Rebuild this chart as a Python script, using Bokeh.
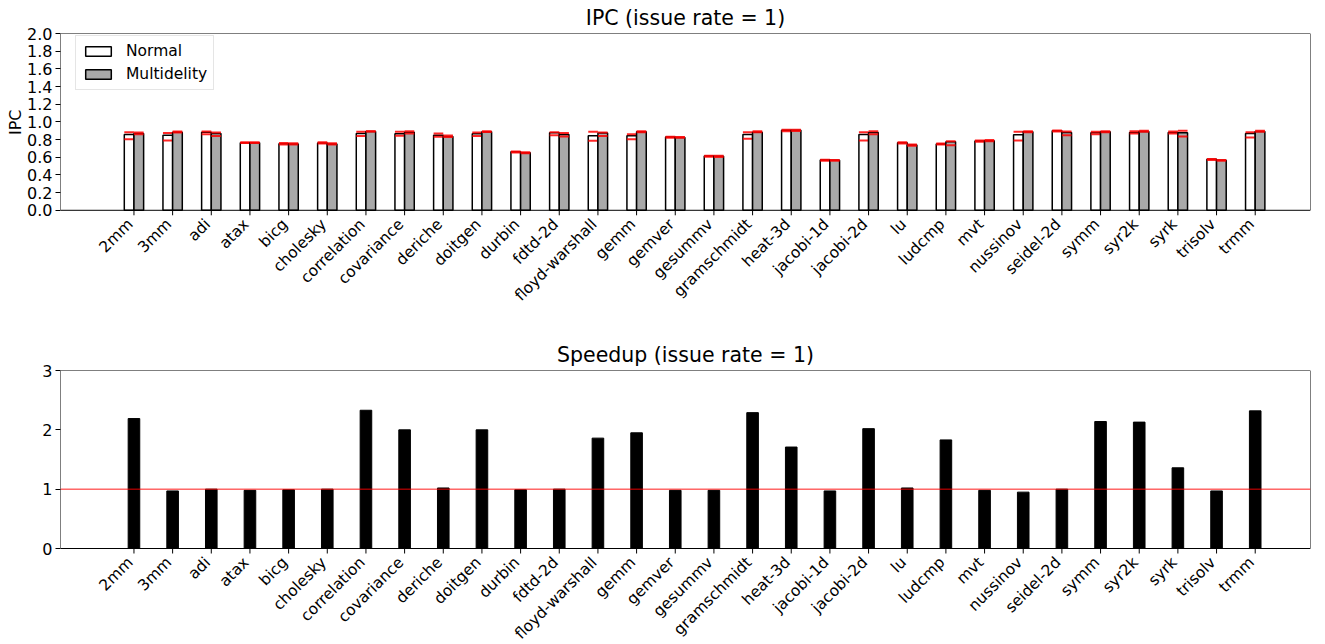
import numpy as np
from bokeh.plotting import figure
from bokeh.layouts import column
from bokeh.models import (Range1d, FixedTicker, Span, Legend, LegendItem, BoxAnnotation, Title)
from bokeh.core.properties import value
from bokeh.embed import file_html
from bokeh.resources import INLINE

benchmarks = ["2mm", "3mm", "adi", "atax", "bicg", "cholesky", "correlation", "covariance",
              "deriche", "doitgen", "durbin", "fdtd-2d", "floyd-warshall", "gemm", "gemver",
              "gesummv", "gramschmidt", "heat-3d", "jacobi-1d", "jacobi-2d", "lu", "ludcmp",
              "mvt", "nussinov", "seidel-2d", "symm", "syr2k", "syrk", "trisolv", "trmm"]

ipc_normal = [0.857, 0.850, 0.884, 0.764, 0.753, 0.760, 0.869, 0.865, 0.850, 0.865,
              0.663, 0.876, 0.843, 0.843, 0.828, 0.614, 0.857, 0.906, 0.569, 0.857,
              0.764, 0.749, 0.783, 0.854, 0.899, 0.876, 0.880, 0.880, 0.577, 0.869]
ipc_normal_lo = [0.805, 0.790, 0.860, 0.760, 0.745, 0.755, 0.839, 0.843, 0.832, 0.840,
                 0.655, 0.850, 0.787, 0.805, 0.820, 0.607, 0.809, 0.895, 0.560, 0.790,
                 0.755, 0.745, 0.775, 0.790, 0.890, 0.860, 0.870, 0.870, 0.570, 0.824]
ipc_normal_hi = [0.884, 0.875, 0.890, 0.770, 0.760, 0.770, 0.888, 0.888, 0.869, 0.880,
                 0.665, 0.884, 0.888, 0.860, 0.832, 0.617, 0.884, 0.910, 0.572, 0.884,
                 0.770, 0.755, 0.790, 0.888, 0.903, 0.888, 0.895, 0.890, 0.580, 0.884]
ipc_multi = [0.869, 0.884, 0.869, 0.764, 0.750, 0.750, 0.891, 0.884, 0.835, 0.888,
             0.652, 0.858, 0.873, 0.888, 0.824, 0.610, 0.884, 0.906, 0.566, 0.880,
             0.738, 0.775, 0.787, 0.888, 0.880, 0.888, 0.891, 0.876, 0.566, 0.891]
ipc_multi_lo = [0.860, 0.880, 0.840, 0.760, 0.745, 0.745, 0.890, 0.870, 0.830, 0.885,
                0.645, 0.835, 0.840, 0.884, 0.820, 0.603, 0.884, 0.898, 0.560, 0.860,
                0.730, 0.735, 0.780, 0.884, 0.850, 0.884, 0.888, 0.836, 0.560, 0.888]
ipc_multi_hi = [0.880, 0.890, 0.880, 0.770, 0.757, 0.757, 0.895, 0.895, 0.845, 0.895,
                0.656, 0.873, 0.880, 0.895, 0.828, 0.617, 0.895, 0.910, 0.570, 0.895,
                0.745, 0.780, 0.795, 0.895, 0.890, 0.895, 0.900, 0.900, 0.570, 0.900]

speedup = [2.19, 0.97, 1.00, 0.98, 0.99, 1.00, 2.33, 2.00, 1.02, 2.00,
           0.99, 1.00, 1.86, 1.95, 0.98, 0.98, 2.29, 1.71, 0.97, 2.02,
           1.02, 1.83, 0.98, 0.95, 1.00, 2.14, 2.13, 1.36, 0.97, 2.32]

ipc_ticks = [0.0, 0.2, 0.4, 0.6, 0.8, 1.0, 1.2, 1.4, 1.6, 1.8, 2.0]
speedup_ticks = [0, 1, 2, 3]

FONT = "DejaVu Sans"
YTICK_SIZE = "16px"
XTICK_SIZE = "15.5px"
LEGEND_SIZE = "15.5px"
TITLE_SIZE = "20.5px"
idx = np.arange(len(benchmarks))
bw = 0.25
xlo, xhi = -1.90, 30.43

AXES_H = 178          # pixel height of the plotting box (0..ymax)
LEFT, RIGHT = 60, 15


def make_panel(title, ymax, yticks, fmt, height, top_border, bottom_border):
    """A panel whose frame also holds the rotated category labels under the box."""
    frame_h = height - top_border - bottom_border
    ymin = -(frame_h - AXES_H) / AXES_H * ymax
    p = figure(width=1325, height=height, output_backend="svg", toolbar_location=None,
               x_range=Range1d(xlo, xhi), y_range=Range1d(ymin, ymax),
               min_border_left=LEFT, min_border_right=RIGHT,
               min_border_top=top_border, min_border_bottom=bottom_border)
    p.title.text = title
    p.title.align = "center"
    p.title.text_font = FONT
    p.title.text_font_size = TITLE_SIZE
    p.title.text_font_style = "normal"
    p.title.text_color = "black"
    p.title.standoff = 7
    p.xgrid.visible = False
    p.ygrid.visible = False
    p.outline_line_color = None
    p.xaxis.visible = False

    ax = p.yaxis[0]
    ax.ticker = FixedTicker(ticks=yticks)
    ax.major_label_overrides = {t: (fmt % t) for t in yticks}
    ax.axis_line_color = None
    ax.major_tick_line_color = "black"
    ax.major_tick_out = 5
    ax.major_tick_in = 0
    ax.minor_tick_line_color = None
    ax.major_label_text_font = FONT
    ax.major_label_text_font_size = YTICK_SIZE
    ax.major_label_text_color = "black"
    ax.major_label_standoff = 3

    # axes box
    p.add_layout(BoxAnnotation(left=xlo, right=xhi, bottom=0, top=ymax,
                               fill_color=None, line_color="black", line_width=1,
                               line_alpha=1))
    # x ticks and rotated category names (right edge of each name under its tick)
    p.ray(x=idx, y=0, length=5, length_units="screen", angle=-np.pi / 2,
          line_color="black", line_width=1)
    p.text(x=idx, y=0, text=benchmarks, angle=np.pi / 4, text_align="right",
           text_baseline="top", x_offset=-10, y_offset=5, text_font=value(FONT),
           text_font_size=XTICK_SIZE, text_color="black")
    return p, frame_h


# IPC panel
p1, h1 = make_panel("IPC (issue rate = 1)", 2.0, ipc_ticks, "%.1f", 330, 31, 6)
p1.add_layout(Title(text="IPC", align="right", offset=76, standoff=0, text_font=FONT,
                    text_font_size=YTICK_SIZE, text_font_style="normal",
                    text_color="black"), "left")

r_norm = p1.vbar(x=idx - bw / 2, top=ipc_normal, width=bw, bottom=0,
                 fill_color="white", line_color="black", line_width=1.5)
p1.segment(x0=idx - bw, x1=idx, y0=ipc_normal_lo, y1=ipc_normal_lo,
           line_color="red", line_width=2, line_alpha=0.85)
p1.segment(x0=idx - bw, x1=idx, y0=ipc_normal_hi, y1=ipc_normal_hi,
           line_color="red", line_width=2, line_alpha=0.85)
r_multi = p1.vbar(x=idx + bw / 2, top=ipc_multi, width=bw, bottom=0,
                  fill_color="#a9a9a9", line_color="black", line_width=1.5)
p1.segment(x0=idx, x1=idx + bw, y0=ipc_multi_lo, y1=ipc_multi_lo,
           line_color="red", line_width=2, line_alpha=0.85)
p1.segment(x0=idx, x1=idx + bw, y0=ipc_multi_hi, y1=ipc_multi_hi,
           line_color="red", line_width=2, line_alpha=0.85)

legend = Legend(items=[LegendItem(label="Normal", renderers=[r_norm]),
                       LegendItem(label="Multidelity", renderers=[r_multi])],
                location=(15, h1 - 59))
legend.label_text_font = FONT
legend.label_text_font_size = LEGEND_SIZE
legend.label_text_color = "black"
legend.glyph_width = 32
legend.glyph_height = 12
legend.label_standoff = 12
legend.spacing = 5
legend.padding = 6
legend.margin = 0
legend.border_line_color = "#cccccc"
legend.border_line_width = 1
legend.background_fill_alpha = 0.8
p1.add_layout(legend)

# Speedup panel
p2, h2 = make_panel("Speedup (issue rate = 1)", 3.0, speedup_ticks, "%d", 314, 40, 0)
p2.vbar(x=idx, top=speedup, width=0.3, bottom=0, fill_color="black", line_color="black")
p2.add_layout(Span(location=1, dimension="width", line_color="red", line_width=1,
                   line_alpha=0.9))

layout = column(p1, p2, spacing=0)
open("out.html", "w").write(file_html(layout, INLINE))
